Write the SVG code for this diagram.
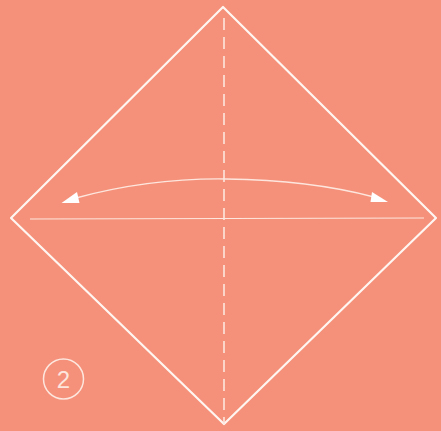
<svg xmlns="http://www.w3.org/2000/svg" width="441" height="431" viewBox="0 0 441 431">
<style>
.edge{fill:none;stroke:#fff6f2;stroke-width:2.2;stroke-linejoin:round}
.dash{fill:none;stroke:#fde6dd;stroke-width:1.6;stroke-dasharray:12 7}
.crease{fill:none;stroke:#fde6dd;stroke-width:1.2}
.arc{fill:none;stroke:#fde6dd;stroke-width:1.3}
.head{fill:#ffffff}
.num{fill:none;stroke:#fde6dd;stroke-width:1.5}
</style>
<rect width="441" height="431" fill="#f5917a"/>
<g id="paper">
<path class="edge" d="M223,7 L11,218 L224,424 L436,218 Z"/>
</g>
<g id="creases">
<line class="dash" x1="224" y1="18" x2="224" y2="424"/>
<line class="crease" x1="30" y1="219" x2="424" y2="218"/>
</g>
<g id="arrow">
<path class="arc" d="M76,198 Q150,178 226,179 Q310,180 374,197"/>
<polygon class="head" points="61.5,203 77,192 79.5,203"/>
<polygon class="head" points="388,202 372,192 370.5,202"/>
</g>
<g id="step">
<circle class="num" cx="63.5" cy="379" r="20"/>
<text x="63.5" y="388" text-anchor="middle" font-family="Liberation Sans, sans-serif" font-size="24" fill="#fde6dd">2</text>
</g>
</svg>
